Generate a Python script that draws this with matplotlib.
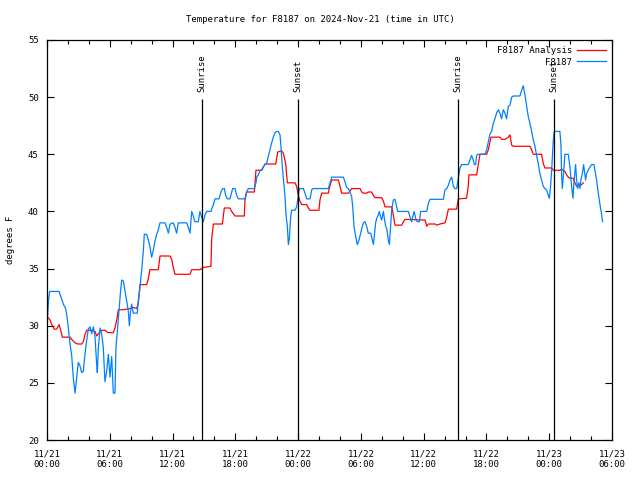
import matplotlib
matplotlib.use("Agg")
import matplotlib.pyplot as plt
import matplotlib.dates as mdates
import numpy as np
import pandas as pd

START = pd.Timestamp("2024-11-21 00:00")

# observed station temperatures (hours since 11/21 00:00 UTC, deg F)
obs_hours = [
    0.00, 0.15, 0.25, 1.15, 1.34, 1.56, 1.78, 1.91, 2.04, 2.20, 2.36, 2.52, 2.68, 2.84,
    2.99, 3.15, 3.31, 3.47, 3.63, 3.79, 3.95, 4.11, 4.27, 4.43, 4.59, 4.75, 4.81, 4.91,
    5.07, 5.22, 5.38, 5.54, 5.70, 5.86, 6.02, 6.18, 6.34, 6.50, 6.59, 6.75, 6.88, 7.01,
    7.14, 7.30, 7.45, 7.61, 7.77, 7.87, 7.96, 8.09, 8.25, 8.63, 8.73, 8.89, 9.05, 9.21,
    9.30, 9.53, 9.68, 9.84, 10.00, 10.16, 10.32, 10.48, 10.64, 10.80, 11.28, 11.44, 11.60,
    11.76, 12.07, 12.23, 12.39, 12.55, 13.35, 13.51, 13.67, 13.83, 13.98, 14.14,
    14.46, 14.62, 14.78, 14.94, 15.10, 15.26, 15.67, 15.90, 16.06, 16.44, 16.63, 16.79,
    16.95, 17.08, 17.24, 17.49, 17.65, 17.74, 17.97, 18.13, 18.29, 18.92, 19.08, 19.24,
    19.82, 19.97, 20.04, 20.20, 20.36, 20.52, 20.68, 20.84, 20.99, 21.15, 21.31, 21.47,
    21.63, 21.79, 21.95, 22.11, 22.27, 22.36, 22.49, 22.59, 22.75, 22.84, 22.97, 23.07,
    23.16, 23.29, 23.38, 23.70, 23.86, 24.02, 24.12, 24.50, 24.66, 24.82, 25.14, 25.30,
    25.45, 26.89, 27.05, 27.21, 28.32, 28.48, 28.64, 28.80, 28.96, 29.12, 29.22, 29.34,
    29.50, 29.66, 29.82, 29.98, 30.14, 30.24, 30.39, 30.55, 30.71, 30.94, 31.10, 31.19,
    31.29, 31.41, 31.51, 31.67, 31.76, 31.89, 31.99, 32.15, 32.24, 32.37, 32.47, 32.62,
    32.72, 32.82, 32.94, 33.10, 33.26, 33.42, 33.52, 34.54, 34.70, 34.85, 34.95, 35.08,
    35.17, 35.27, 35.40, 35.59, 35.72, 36.29, 36.45, 36.61, 37.88, 38.04, 38.20, 38.36,
    38.52, 38.68, 38.84, 38.99, 39.15, 39.31, 39.47, 39.63, 40.26, 40.42, 40.58, 40.74,
    40.84, 40.97, 41.06, 41.16, 41.86, 42.02, 42.18, 42.34, 42.49, 42.65, 42.81, 42.97,
    43.13, 43.29, 43.45, 43.61, 43.77, 43.93, 44.09, 44.25, 44.41, 44.57, 45.20, 45.36,
    45.52, 45.68, 45.84, 46.00, 46.16, 46.32, 46.48, 46.64, 46.79, 46.95, 47.11, 47.27,
    47.43, 47.59, 47.75, 47.91, 48.01, 48.13, 48.23, 48.39, 48.48, 49.02, 49.12, 49.18,
    49.25, 49.34, 49.50, 49.82, 49.98, 50.14, 50.27, 50.36, 50.52, 50.62, 50.71, 50.84,
    50.94, 51.03, 51.16, 51.29, 51.35, 51.48, 51.57, 51.73, 51.89, 52.05, 52.27, 52.37,
    52.53, 52.69, 52.85, 53.01, 53.10,
]
obs_temp = [
    29.8, 32.3, 33.0, 33.0, 32.5, 31.9, 31.5, 30.8, 29.8, 28.4, 27.4, 25.4, 24.1, 25.5,
    26.8, 26.5, 25.9, 26.0, 27.5, 28.7, 29.7, 29.9, 29.3, 29.9, 29.0, 26.6, 25.9, 28.1,
    29.8, 29.3, 28.1, 25.1, 26.0, 27.5, 25.5, 27.3, 24.1, 24.1, 28.1, 29.8, 31.3, 32.8,
    34.0, 33.9, 33.1, 32.2, 31.3, 30.0, 31.0, 31.9, 31.1, 31.1, 32.2, 33.4, 34.9, 36.6,
    38.0, 38.0, 37.5, 36.9, 36.0, 36.6, 37.4, 38.0, 38.4, 39.0, 39.0, 38.6, 38.1,
    38.9, 39.0, 38.6, 38.1, 39.0, 39.0, 38.6, 38.1, 40.0, 39.6, 39.1,
    39.1, 40.0, 39.5, 39.1, 39.7, 40.0, 40.0, 40.6, 41.1, 41.1, 41.7, 42.0,
    42.0, 41.4, 41.1, 41.1, 41.7, 42.0, 42.0, 41.4, 41.1, 41.1, 41.7, 42.0,
    42.0, 42.5, 43.0, 43.2, 43.6, 43.6, 43.9, 44.1, 44.2, 44.8, 45.4, 46.0,
    46.5, 46.9, 47.0, 47.0, 46.7, 45.7, 43.9, 42.9, 41.3, 39.7, 38.7, 37.1,
    37.6, 39.5, 40.1, 40.1, 40.4, 41.4, 42.0, 42.0, 41.6, 41.1, 41.1, 41.9,
    42.0, 42.0, 42.5, 43.0, 43.0, 42.6, 42.1, 42.0, 41.7, 41.3, 40.4, 38.7,
    37.8, 37.1, 37.5, 38.1, 38.7, 39.0, 39.1, 38.7, 38.1, 38.1, 37.5, 37.1,
    37.9, 39.0, 39.4, 39.7, 40.0, 39.5, 39.25, 40.0, 39.4, 38.7, 38.5, 37.5,
    37.1, 38.4, 40.1, 41.0, 41.06, 40.4, 40.0, 40.0, 39.5, 39.1, 39.5, 40.0,
    39.7, 39.25, 39.1, 39.1, 40.0, 40.0, 40.7, 41.06, 41.06, 41.9, 42.0, 42.3,
    42.75, 43.0, 42.2, 42.0, 42.0, 42.9, 43.8, 44.1, 44.1, 44.5, 44.9, 44.5,
    44.1, 44.1, 44.9, 45.0, 45.0, 45.4, 46.1, 46.8, 47.0, 47.7, 48.1, 48.6,
    48.9, 48.6, 48.1, 48.9, 48.6, 48.1, 49.2, 49.3, 50.0, 50.1, 50.1, 50.6,
    51.0, 50.2, 49.2, 48.3, 47.7, 47.0, 46.25, 45.7, 44.9, 44.2, 43.3, 42.75,
    42.2, 42.0, 41.9, 41.4, 41.15, 42.2, 43.6, 46.25, 47.0, 47.0, 45.8, 43.3,
    42.0, 43.0, 45.0, 45.0, 43.9, 42.2, 41.15, 42.5, 44.1, 42.75, 42.0, 42.5,
    42.0, 42.75, 43.3, 44.1, 43.6, 42.75, 43.3, 43.6, 43.9, 44.1, 44.1, 43.6,
    42.75, 41.6, 40.6, 39.7, 39.1,
]

# analysis temperatures
ana_hours = [
    0.00, 0.29, 0.45, 0.70, 0.92, 1.15, 1.34, 1.47, 2.20, 2.36, 2.68, 2.93, 3.31, 3.47,
    3.63, 3.79, 4.27, 4.59, 4.75, 4.91, 5.22, 5.54, 5.80, 6.34, 6.50, 6.66, 6.82, 7.30,
    7.93, 8.25, 8.57, 8.73, 8.89, 9.53, 9.68, 9.84, 10.64, 10.80, 11.76, 11.92, 12.07,
    12.23, 13.67, 13.83, 14.62, 14.94, 15.67, 15.74, 15.90, 16.76, 16.95, 17.49, 17.65,
    17.97, 18.86, 18.92, 19.08, 19.82, 19.97, 20.52, 20.68, 20.84, 21.86, 22.05, 22.43,
    22.59, 22.81, 22.97, 23.70, 23.86, 24.02, 24.18, 24.34, 24.82, 24.98, 25.14, 25.99,
    26.09, 26.25, 26.89, 27.05, 27.21, 27.85, 28.01, 28.16, 28.80, 28.96, 29.12, 29.92,
    30.08, 30.24, 30.55, 30.71, 31.03, 31.19, 31.35, 31.99, 32.15, 32.31, 32.94, 33.10,
    33.26, 33.90, 34.06, 34.22, 36.13, 36.29, 36.45, 37.09, 37.24, 37.56, 38.04, 38.20,
    38.36, 39.15, 39.31, 40.10, 40.26, 40.33, 41.06, 41.22, 41.38, 42.02, 42.18, 42.43,
    43.29, 43.45, 43.77, 44.09, 44.25, 44.41, 44.57, 46.16, 46.32, 46.48, 47.27, 47.43,
    47.59, 48.23, 48.39, 49.02, 49.18, 49.50, 49.66, 49.82, 49.98, 50.30, 50.46, 50.62,
    50.78, 50.94, 51.03, 51.26,
]
ana_temp = [
    30.8, 30.5, 30.1, 29.7, 29.7, 30.1, 29.5, 29.0, 29.0, 28.8, 28.5, 28.4, 28.4, 28.6,
    29.2, 29.6, 29.6, 29.5, 29.1, 29.3, 29.6, 29.6, 29.4, 29.4, 29.8, 30.5, 31.4, 31.4,
    31.5, 31.6, 31.5, 32.0, 33.6, 33.6, 34.1, 34.9, 34.9, 36.1, 36.1, 35.8, 35.1,
    34.5, 34.5, 34.9, 34.9, 35.1, 35.2, 37.6, 38.9, 38.9, 40.3, 40.3, 40.0,
    39.6, 39.6, 41.0, 41.7, 41.7, 43.6, 43.6, 43.9, 44.15, 44.15, 45.2, 45.3,
    45.1, 44.2, 42.5, 42.5, 42.2, 41.4, 40.9, 40.6, 40.6, 40.3, 40.1, 40.1,
    41.0, 41.6, 41.6, 42.3, 42.75, 42.75, 42.2, 41.6, 41.6, 41.8, 42.0, 42.0,
    41.7, 41.6, 41.6, 41.7, 41.7, 41.4, 41.2, 41.2, 40.9, 40.4, 40.4, 39.7,
    38.8, 38.8, 39.1, 39.3, 39.25, 38.7, 38.9, 38.9, 38.8, 38.9, 39.0, 39.5,
    40.2, 40.2, 41.1, 41.15, 42.2, 43.2, 43.2, 44.1, 45.0, 45.0, 45.4, 46.5,
    46.5, 46.3, 46.3, 46.5, 46.7, 45.8, 45.7, 45.7, 45.4, 45.0, 45.0, 44.2,
    43.8, 43.8, 43.6, 43.6, 43.7, 43.5, 43.2, 43.0, 42.9, 42.9, 42.5, 42.2,
    42.3, 42.4, 42.3, 42.5,
]

# sun events (hours since start)
event_hours = [14.85, 24.02, 39.31, 48.49]
event_names = ["Sunrise", "Sunset", "Sunrise", "Sunset"]


def to_time(hours):
    return (START + pd.to_timedelta(np.array(hours), unit="h")).to_numpy()


plt.rcParams["font.family"] = ["DejaVu Sans Mono"]
plt.rcParams["font.size"] = 6.5

fig = plt.figure(figsize=(6.4, 4.8), dpi=100)
ax = fig.add_axes([47 / 640, 40 / 480, 565 / 640, 400 / 480])

ax.plot(to_time(ana_hours), ana_temp, color="#ff0000", linewidth=0.9, label="F8187 Analysis")
ax.plot(to_time(obs_hours), obs_temp, color="#0080ff", linewidth=0.9, label="F8187")

for h, name in zip(event_hours, event_names):
    t = to_time([h])[0]
    ax.vlines(t, 20, 49.85, color="black", linewidth=0.9)
    ax.text(t, 50.45, name, rotation=90, ha="center", va="bottom", fontsize=6.5)

ax.set_xlim(to_time([0])[0], to_time([54])[0])
ax.set_ylim(20, 55)
ax.set_yticks(np.arange(20, 56, 5))

ax.xaxis.set_major_locator(mdates.HourLocator(byhour=[0, 6, 12, 18]))
ax.xaxis.set_minor_locator(mdates.HourLocator(byhour=range(0, 24, 2)))
ax.xaxis.set_major_formatter(mdates.DateFormatter("%m/%d\n%H:%M"))

ax.tick_params(which="both", direction="in", top=True, right=True, width=0.8)
ax.tick_params(which="major", length=5, pad=7)
ax.tick_params(which="minor", length=3)
ax.tick_params(axis="y", pad=6)
for s in ax.spines.values():
    s.set_linewidth(0.9)

ax.set_ylabel("degrees F", labelpad=9)

leg = ax.legend(loc="upper right", markerfirst=False, frameon=False,
                handlelength=3.2, handletextpad=0.6, labelspacing=0.3,
                borderaxespad=0.25, fontsize=6.5)

fig.text(0.5, 1 - 19 / 480, "Temperature for F8187 on 2024-Nov-21 (time in UTC)",
         ha="center", va="center", fontsize=6.5)

fig.savefig("out.png", dpi=100)
